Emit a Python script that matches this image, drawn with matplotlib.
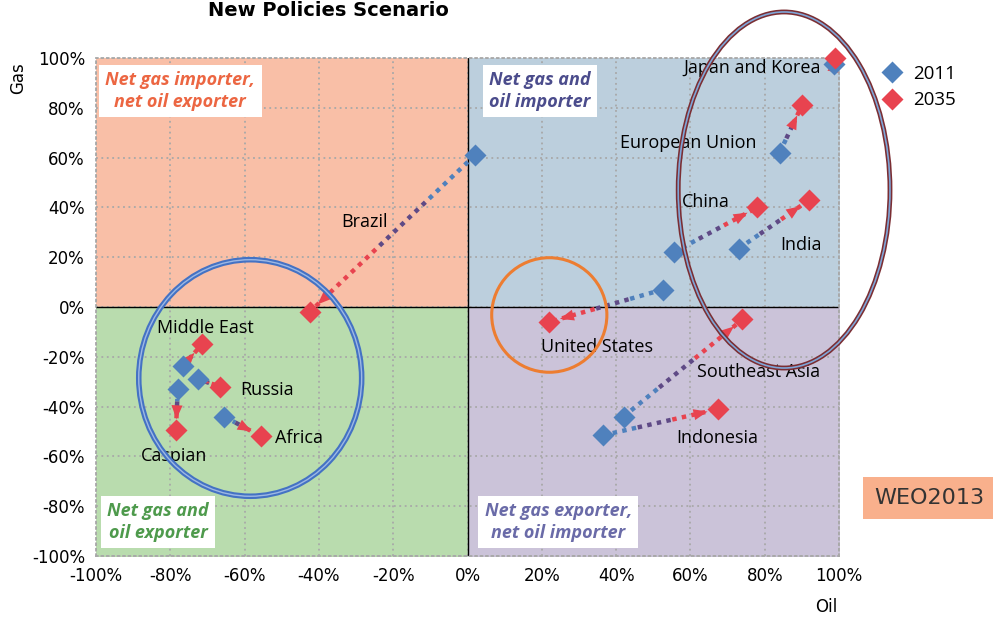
import numpy as np
import matplotlib
matplotlib.use('Agg')
import matplotlib.pyplot as plt
from matplotlib.patches import Ellipse
from matplotlib.lines import Line2D

regions = ['Brazil', 'Middle East', 'Russia', 'Caspian', 'Africa', 'United States',
           'Southeast Asia', 'Indonesia', 'China', 'India', 'European Union', 'Japan and Korea']
oil_2011 = [2, -76.5, -72.5, -78, -65.5, 52.5, 42, 36.5, 55.5, 73, 84, 98.7]
gas_2011 = [61, -23.5, -29, -33, -44, 7, -44, -51.5, 22, 23.5, 62, 97.5]
oil_2035 = [-42.5, -71.5, -66.5, -78.5, -55.5, 22, 74, 67.5, 78, 92, 90, 99]
gas_2035 = [-2, -15, -32, -49.5, -52, -6, -5, -41, 40, 43, 81, 100]

# label anchor (left, centre) positions
lab_x = [-34, -83.6, -61.2, -87.9, -51.8, 19.8, 61.8, 56.1, 57.7, 84.1, 41.0, 58.0]
lab_y = [34, -8.4, -33.3, -59.8, -52.6, -16.1, -26.1, -52.6, 42.2, 24.9, 65.9, 96]

ticks = [-100, -80, -60, -40, -20, 0, 20, 40, 60, 80, 100]

blue = '#4F81BD'
purple = '#5F4A86'
red = '#E8434F'
narrow = ['DejaVu Sans']
body = ['Open Sans', 'DejaVu Sans']

fig = plt.figure(figsize=(9.93, 6.18), dpi=100)
ax = fig.add_axes([0.0967, 0.1003, 0.7483, 0.8058])
ax.set_xlim(-100, 100)
ax.set_ylim(-100, 100)

ax.fill_between([-100, 0], 0, 100, color='#F9BFA7', zorder=0)
ax.fill_between([0, 100], 0, 100, color='#BCCFDD', zorder=0)
ax.fill_between([-100, 0], -100, 0, color='#B9DCAE', zorder=0)
ax.fill_between([0, 100], -100, 0, color='#CBC3D9', zorder=0)

ax.set_xticks(ticks)
ax.set_yticks(ticks)
ax.set_xticklabels(['%d%%' % t for t in ticks], family=narrow, fontsize=12)
ax.set_yticklabels(['%d%%' % t for t in ticks], family=narrow, fontsize=12)
ax.tick_params(length=0, pad=8)
ax.grid(True, ls=(0, (1, 2)), color='#a8a8a8', lw=1.3, zorder=1)
ax.set_axisbelow(True)
for s in ax.spines.values():
    s.set_linestyle((0, (1, 2)))
    s.set_color('#a8a8a8')
    s.set_linewidth(1.3)
ax.axhline(0, color='black', lw=1, zorder=2)
ax.axvline(0, color='black', lw=1, zorder=2)

# arrows 2011 -> 2035
for x0, y0, x1, y1 in zip(oil_2011, gas_2011, oil_2035, gas_2035):
    p0 = np.array([x0, y0])
    p1 = np.array([x1, y1])
    cuts = [0, 0.3, 0.6, 1.0]
    for c, a, b in zip([blue, purple, red], cuts[:-1], cuts[1:]):
        q0 = p0 + (p1 - p0) * a
        q1 = p0 + (p1 - p0) * b
        ax.plot([q0[0], q1[0]], [q0[1], q1[1]], ls=(0, (1, 1.2)), lw=3.2, color=c,
                solid_capstyle='butt', zorder=3)
    ax.annotate('', xy=(x1, y1), xytext=(x0, y0),
                arrowprops=dict(arrowstyle='-|>,head_length=1.0,head_width=0.4',
                                color=red, lw=0, shrinkA=0, shrinkB=8), zorder=4)

ax.plot(oil_2011, gas_2011, 'D', color=blue, ms=11, mec='none', zorder=5, clip_on=False)
ax.plot(oil_2035, gas_2035, 'D', color=red, ms=11, mec='none', zorder=6, clip_on=False)

for name, lx, ly in zip(regions, lab_x, lab_y):
    ax.text(lx, ly, name, family=body, fontsize=13, va='center', ha='left', zorder=7)

# quadrant labels
qbox = dict(facecolor='white', edgecolor='none', boxstyle='square,pad=0.35')
qkw = dict(ha='center', va='center', fontsize=13, style='italic', weight='bold',
           family=body, bbox=qbox, linespacing=1.25, zorder=7)
ax.text(-77.3, 86.7, 'Net gas importer,\nnet oil exporter', color='#EC6642', **qkw)
ax.text(19.5, 86.7, 'Net gas and\noil importer', color='#4B4C8C', **qkw)
ax.text(-83.3, -86.3, 'Net gas and\noil exporter', color='#4E9A4C', **qkw)
ax.text(24.4, -86.3, 'Net gas exporter,\nnet oil importer', color='#6A6BA8', **qkw)

# highlight ellipses
e1 = Ellipse((-58.5, -28.5), 60, 95, fill=False, ec='#4472C4', lw=4, zorder=8, clip_on=False)
e1b = Ellipse((-58.5, -28.5), 60, 95, fill=False, ec='#9DB8E4', lw=1, zorder=8, clip_on=False)
e2 = Ellipse((22, -3.2), 31, 46, fill=False, ec='#ED7D31', lw=2.2, zorder=8, clip_on=False)
e3 = Ellipse((85.2, 47), 57, 143, fill=False, ec='#7B2E33', lw=3.5, zorder=8, clip_on=False)
e3b = Ellipse((85.2, 47), 57, 143, fill=False, ec='#7FA6D8', lw=1.2, zorder=8, clip_on=False)
for e in [e1, e1b, e2, e3, e3b]:
    ax.add_patch(e)

fig.text(328 / 993, 1 - 11 / 618, 'New Policies Scenario', ha='center', va='center',
         fontsize=14, weight='bold', family=['DejaVu Sans'])
fig.text(18 / 993, 1 - 78 / 618, 'Gas', rotation=90, ha='center', va='center',
         family=narrow, fontsize=12)
fig.text(826 / 993, 1 - 607 / 618, 'Oil', ha='center', va='center', family=narrow, fontsize=12)

handles = [Line2D([], [], marker='D', ls='none', color=blue, ms=11, mec='none'),
           Line2D([], [], marker='D', ls='none', color=red, ms=11, mec='none')]
fig.legend(handles, ['2011', '2035'], loc='upper left', bbox_to_anchor=(866 / 993, 1 - 48 / 618),
           frameon=False, prop={'family': body, 'size': 13.5}, handletextpad=0.6,
           labelspacing=0.45, handlelength=1.0)

fig.text(929 / 993, 1 - 498 / 618, 'WEO2013', ha='center', va='center', family=narrow,
         fontsize=16, color='#333333',
         bbox=dict(facecolor='#F9B08C', edgecolor='none', boxstyle='square,pad=0.5'))

fig.savefig('out.png', dpi=100)
